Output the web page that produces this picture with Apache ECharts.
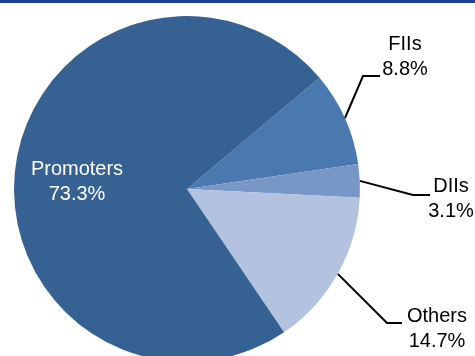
<!DOCTYPE html>
<html>
<head>
<meta charset="utf-8">
<script src="https://cdn.jsdelivr.net/npm/echarts@6/dist/echarts.min.js"></script>
<style>
  html, body { margin: 0; padding: 0; background: #ffffff; }
  #chart { width: 475px; height: 356px; }
</style>
</head>
<body>
<div id="chart"></div>
<script>
// Shareholding pattern (%)
const categories = ['FIIs', 'DIIs', 'Others', 'Promoters'];
const shares = [8.8, 3.1, 14.7, 73.3];
const sliceColors = ['#4a79b0', '#7897c7', '#b3c3df', '#366193'];

// Label placement: text block centre and elbow of the leader line
const labelSpots = [
  { x: 405, y: 57, elbow: [[363, 76], [380, 76]] },
  { x: 451, y: 199, elbow: [[413, 195], [430, 195]] },
  { x: 437, y: 329, elbow: [[387, 323], [402, 323]] },
  { x: 77, y: 182, elbow: null }
];

const chart = echarts.init(document.getElementById('chart'), null, { renderer: 'canvas' });

const data = categories.map((name, i) => ({
  name: name,
  value: shares[i],
  itemStyle: { color: sliceColors[i] },
  label: name === 'Promoters' ? { color: '#ffffff' } : {},
  labelLine: { show: name !== 'Promoters' }
}));

chart.setOption({
  animation: false,
  graphic: [{
    type: 'rect',
    shape: { x: 0, y: 0, width: 475, height: 3 },
    style: { fill: '#1f3f96' }
  }],
  series: [{
    type: 'pie',
    center: [187, 189],
    radius: 173,
    startAngle: 40,
    clockwise: true,
    avoidLabelOverlap: false,
    data: data,
    itemStyle: { borderWidth: 0 },
    emphasis: { disabled: true },
    label: {
      show: true,
      position: 'outside',
      formatter: p => p.name + '\n' + p.value.toFixed(1) + '%',
      fontFamily: 'Liberation Sans, Arial, sans-serif',
      fontSize: 20,
      lineHeight: 25,
      color: '#000000',
      align: 'center'
    },
    labelLine: {
      show: true,
      length: 20,
      length2: 15,
      lineStyle: { color: '#000000', width: 2 }
    },
    labelLayout: function (params) {
      const spot = labelSpots[params.dataIndex];
      const out = { x: spot.x, y: spot.y, align: 'center', verticalAlign: 'middle' };
      if (spot.elbow && params.labelLinePoints) {
        out.labelLinePoints = [params.labelLinePoints[0], spot.elbow[0], spot.elbow[1]];
      }
      return out;
    }
  }]
});
</script>
</body>
</html>
